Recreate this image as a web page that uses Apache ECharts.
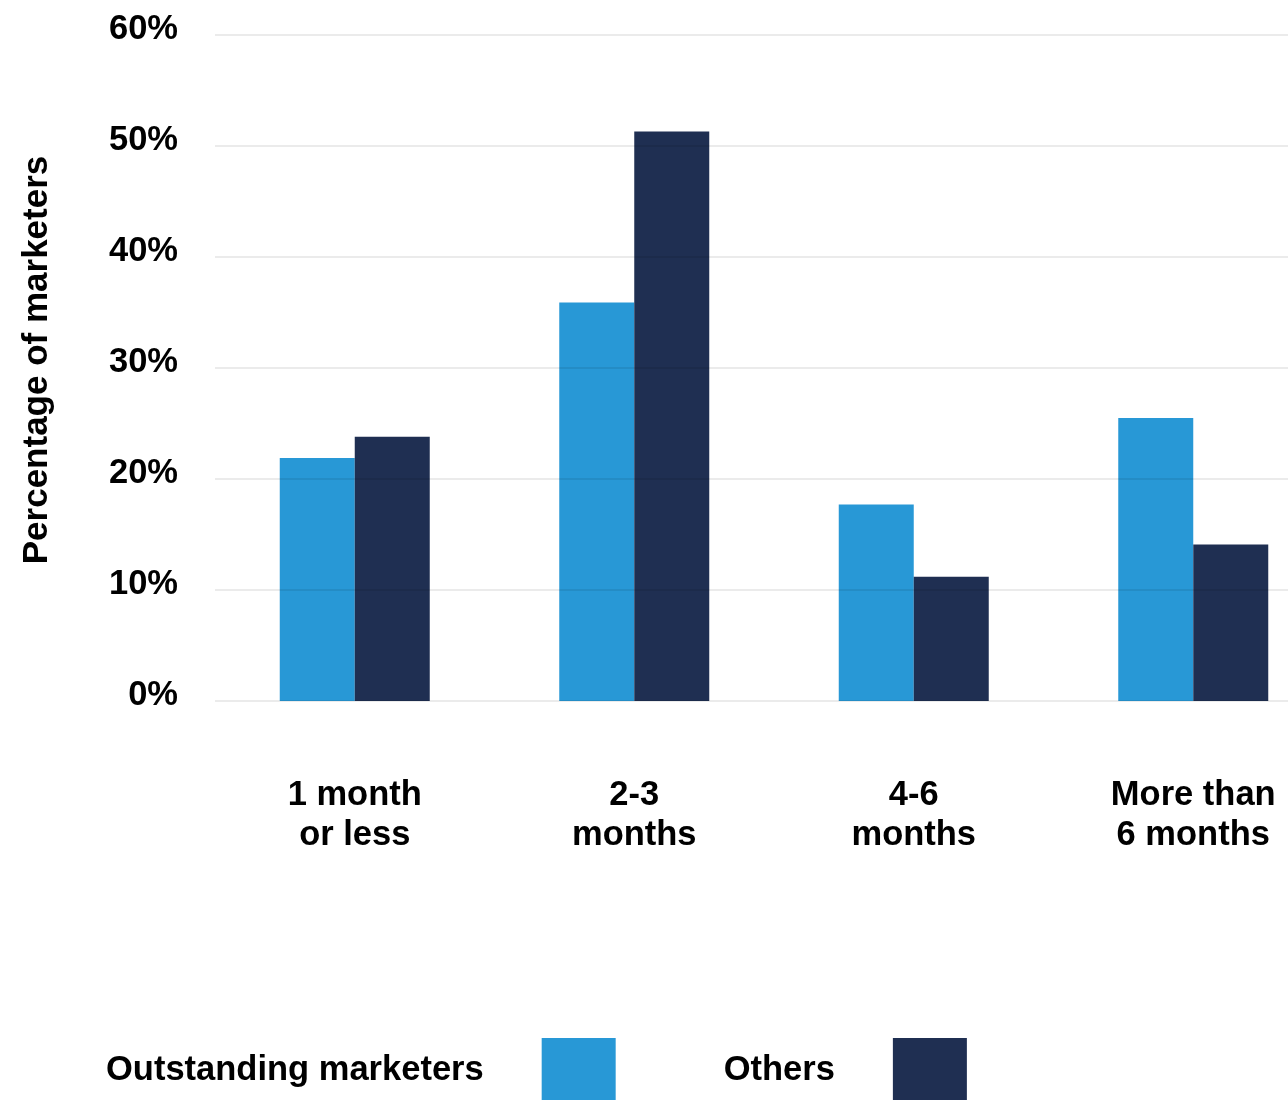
<!DOCTYPE html>
<html>
<head>
<meta charset="utf-8">
<title>Percentage of marketers by time period</title>
<script src="https://cdn.jsdelivr.net/npm/echarts@6/dist/echarts.min.js"></script>
<style>
  html, body { margin: 0; padding: 0; background: #ffffff; }
  #chart { width: 1288px; height: 1100px; }
</style>
</head>
<body>
<div id="chart"></div>
<script>
// Time periods on the x axis
const categories = ['1 month\nor less', '2-3\nmonths', '4-6\nmonths', 'More than\n6 months'];
// Share of marketers (%) per period
const outstanding = [21.9, 35.9, 17.7, 25.5];
const others = [23.8, 51.3, 11.2, 14.1];
// Y axis range and step (%)
const yMin = 0;
const yMax = 60;
const yStep = 10;

const FONT = '"Liberation Sans", Arial, Helvetica, sans-serif';
const BLUE = '#2898d6';
const NAVY = '#1f2f52';
const FS = 34.5;

const chart = echarts.init(document.getElementById('chart'), null, { renderer: 'canvas' });

chart.setOption({
  backgroundColor: '#ffffff',
  animation: false,
  textStyle: { fontFamily: FONT },
  grid: {
    left: 215,
    top: 35,
    width: 1118,
    bottom: 399,
    containLabel: false,
    outerBoundsMode: 'none'
  },
  legend: {
    left: 106,
    top: 1038,
    padding: 0,
    align: 'right',
    itemWidth: 74,
    itemHeight: 64,
    itemGap: 108,
    icon: 'rect',
    textStyle: {
      fontFamily: FONT,
      fontSize: FS,
      fontWeight: 'bold',
      color: '#000',
      padding: [0, 53, 0, 0]
    },
    data: ['Outstanding marketers', 'Others']
  },
  xAxis: {
    type: 'category',
    data: categories,
    boundaryGap: true,
    axisLine: { show: false },
    axisTick: { show: false },
    axisLabel: {
      margin: 74,
      interval: 0,
      fontFamily: FONT,
      fontSize: FS,
      fontWeight: 'bold',
      color: '#000',
      lineHeight: 40,
      align: 'center'
    }
  },
  yAxis: {
    type: 'value',
    min: yMin,
    max: yMax,
    interval: yStep,
    z: 3,
    name: 'Percentage of marketers',
    nameLocation: 'middle',
    nameGap: 160,
    nameTextStyle: {
      fontFamily: FONT,
      fontSize: 35,
      fontWeight: 'bold',
      color: '#000',
      padding: [0, 0, 0, 16]
    },
    axisLine: { show: false },
    axisTick: { show: false },
    axisLabel: {
      formatter: '{value}%',
      margin: 37,
      fontFamily: FONT,
      fontSize: FS,
      fontWeight: 'bold',
      color: '#000',
      verticalAlign: 'bottom',
      lineHeight: 12
    },
    splitLine: {
      show: true,
      lineStyle: { color: 'rgba(0,0,0,0.08)', width: 2 }
    }
  },
  series: [
    {
      name: 'Outstanding marketers',
      type: 'bar',
      data: outstanding,
      barWidth: 75,
      barGap: '0%',
      itemStyle: { color: BLUE }
    },
    {
      name: 'Others',
      type: 'bar',
      data: others,
      barWidth: 75,
      barGap: '0%',
      itemStyle: { color: NAVY }
    }
  ]
});
</script>
</body>
</html>
